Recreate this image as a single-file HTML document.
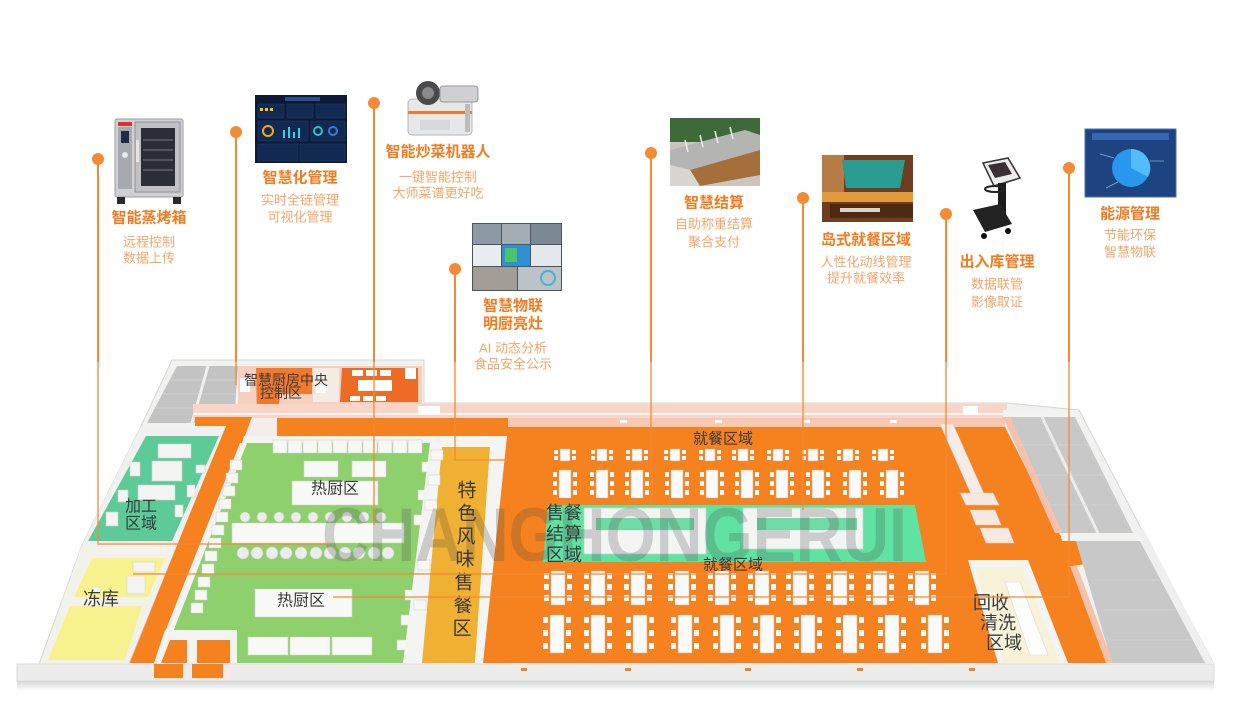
<!DOCTYPE html>
<html><head><meta charset="utf-8"><style>
html,body{margin:0;padding:0;background:#fff;width:1240px;height:702px;overflow:hidden}
svg{display:block}
text{font-family:"Liberation Sans","Noto Sans CJK SC",sans-serif}
.tt{font-size:15px;font-weight:bold;fill:#f37b1f}
.st{font-size:13px;fill:#f6a468}
.fl{fill:#3a3a3a}
</style></head><body>
<svg width="1240" height="702" viewBox="0 0 1240 702" xmlns="http://www.w3.org/2000/svg">
<defs>
<linearGradient id="sh" x1="0" y1="0" x2="0" y2="1"><stop offset="0" stop-color="#d6d6d6"/><stop offset="1" stop-color="#fff"/></linearGradient>
<g id="t1"><rect x="-5" y="-6" width="10" height="12" fill="#fafafa" stroke="#e2ad86" stroke-width=".5"/><rect x="-11" y="-5" width="4" height="4" fill="#fafafa"/><rect x="-11" y="1" width="4" height="4" fill="#fafafa"/><rect x="7" y="-5" width="4" height="4" fill="#fafafa"/><rect x="7" y="1" width="4" height="4" fill="#fafafa"/></g>
<g id="t2"><rect x="-6" y="-14" width="12" height="28" fill="#fafafa" stroke="#e2ad86" stroke-width=".5"/><rect x="-12" y="-12" width="4" height="5" fill="#fafafa"/><rect x="-12" y="-3" width="4" height="5" fill="#fafafa"/><rect x="-12" y="6" width="4" height="5" fill="#fafafa"/><rect x="8" y="-12" width="4" height="5" fill="#fafafa"/><rect x="8" y="-3" width="4" height="5" fill="#fafafa"/><rect x="8" y="6" width="4" height="5" fill="#fafafa"/></g>
<g id="t3"><rect x="-7" y="-17" width="14" height="34" fill="#fafafa" stroke="#e2ad86" stroke-width=".5"/><rect x="-14" y="-15" width="5" height="6" fill="#fafafa"/><rect x="-14" y="-4" width="5" height="6" fill="#fafafa"/><rect x="-14" y="7" width="5" height="6" fill="#fafafa"/><rect x="9" y="-15" width="5" height="6" fill="#fafafa"/><rect x="9" y="-4" width="5" height="6" fill="#fafafa"/><rect x="9" y="7" width="5" height="6" fill="#fafafa"/></g>
<g id="t4"><rect x="-7" y="-19" width="14" height="38" fill="#fafafa" stroke="#e2ad86" stroke-width=".5"/><rect x="-14" y="-17" width="5" height="6" fill="#fafafa"/><rect x="-14" y="-4" width="5" height="6" fill="#fafafa"/><rect x="-14" y="9" width="5" height="6" fill="#fafafa"/><rect x="9" y="-17" width="5" height="6" fill="#fafafa"/><rect x="9" y="-4" width="5" height="6" fill="#fafafa"/><rect x="9" y="9" width="5" height="6" fill="#fafafa"/></g>
<g id="bx"><rect width="12" height="10" fill="#f7f7f5" stroke="#d3d3d3" stroke-width=".6"/></g>
<g id="bt"><rect width="14" height="13" fill="#f7f7f5" stroke="#d3d3d3" stroke-width=".6"/></g>
</defs>

<!-- building base -->
<rect x="17" y="681" width="1197" height="10" fill="url(#sh)"/>
<polygon points="172,360 424,360 424,403 1007,403 1079,410 1142,530 1214,664 1214,681 17,681 17,664 39,664 82,545 141,426" fill="#f1f1ef" stroke="#d5d5d5" stroke-width="1"/>
<rect x="17" y="664" width="1197" height="17" fill="#ececea" stroke="#d9d9d9" stroke-width=".8"/>

<!-- top-left gray storage -->
<polygon points="177,366 238,366 234,423 147,423" fill="#c3c3c3"/>
<g stroke="#d3d3d3" stroke-width=".8"><line x1="170" y1="380" x2="236" y2="380"/><line x1="163" y1="394" x2="235" y2="394"/><line x1="156" y1="408" x2="234" y2="408"/></g>
<line x1="208" y1="366" x2="192" y2="423" stroke="#efefef" stroke-width="3"/>

<!-- control area -->
<rect x="238" y="366" width="184" height="38" fill="#f7d0bf"/>
<polygon points="256,368 312,368 312,394 280,394 278,416 257,416" fill="#f27a2c"/>
<rect x="313" y="368" width="26" height="34" fill="#f5ebe6"/>
<rect x="316" y="385" width="10" height="8" fill="#fff"/>
<polygon points="342,368 418,368 418,402 340,402" fill="#ee6b26"/>
<g fill="#fff"><rect x="358" y="380" width="34" height="11"/><rect x="352" y="370" width="11" height="6"/><rect x="366" y="370" width="11" height="6"/><rect x="380" y="370" width="11" height="6"/><rect x="405" y="368" width="11" height="11"/><rect x="350" y="396" width="10" height="5"/><rect x="363" y="396" width="10" height="5"/><rect x="376" y="396" width="10" height="5"/><rect x="240" y="378" width="10" height="14"/></g>

<!-- top wall band -->
<rect x="193" y="404" width="814" height="14" fill="#f8d5c6"/>
<line x1="193" y1="414" x2="1007" y2="414" stroke="#fff" stroke-width="1.5"/>
<rect x="418" y="406" width="22" height="9" fill="#fff"/>
<rect x="508" y="418" width="497" height="9" fill="#f7c9b4"/>

<!-- corridors -->
<polygon points="195,417 252,417 160,663 127,663 223,428 195,428" fill="#f5821e"/>
<polygon points="217,428 224,428 130,663 122,663" fill="#f4b194"/>
<rect x="277" y="418" width="231" height="18" fill="#f5821e"/>
<polygon points="252,418 277,418 277,456 238,456" fill="#f3eeeb"/>
<rect x="250" y="437" width="20" height="8" fill="#f5821e"/>
<rect x="244" y="448" width="10" height="8" fill="#f5821e"/>

<!-- processing room -->
<polygon points="141,426 226,426 177,545 82,545" fill="#eef1ef"/>
<polygon points="146,436 219,436 172,541 88,541" fill="#5ccb98"/>
<g fill="#f4f4f2" stroke="#cfcfcf" stroke-width=".6">
<rect x="158" y="444" width="33" height="14"/><rect x="152" y="461" width="30" height="20"/><rect x="138" y="485" width="37" height="15"/>
<rect x="130" y="462" width="10" height="14"/><rect x="118" y="490" width="10" height="12"/><rect x="106" y="512" width="12" height="14"/><rect x="175" y="505" width="8" height="12"/><rect x="187" y="485" width="8" height="12"/><rect x="196" y="465" width="9" height="8"/></g>
<rect x="125" y="546" width="16" height="8" fill="#5ccb98"/>

<!-- frozen store -->
<polygon points="82,545 177,545 129,663 40,663" fill="#f2f2ea"/>
<polygon points="92,558 165,558 148,597 74,597" fill="#f7f28e"/>
<polygon points="70,606 142,606 125,660 48,660" fill="#f7f28e"/>
<g fill="#f3f3ef" stroke="#d8d8d0" stroke-width=".6"><rect x="133" y="562" width="22" height="10"/><rect x="127" y="576" width="18" height="18"/><rect x="92" y="587" width="8" height="6"/></g>

<!-- green hot kitchen -->
<polygon points="244,443 437,443 403,663 237,663 237,632 168,632" fill="#8ed06b"/>
<polygon points="244,436 437,436 437,443 242,443" fill="#f3f3f1"/>
<polygon points="240,443 247,443 173,632 165,632" fill="#f4f4f2"/>
<polygon points="165,630 237,630 237,663 154,663" fill="#f3f3f1"/>
<polygon points="170,640 187,640 187,663 161,663" fill="#f5821e"/>
<rect x="197" y="640" width="33" height="23" fill="#f5821e"/>
<rect x="154" y="664" width="29" height="14" fill="#f5821e"/>
<rect x="192" y="664" width="31" height="14" fill="#f5821e"/>
<!-- appliances -->
<use href="#bt" x="273" y="440"/><use href="#bt" x="288" y="440"/><use href="#bt" x="303" y="440"/><use href="#bt" x="318" y="440"/><use href="#bt" x="333" y="440"/><use href="#bt" x="348" y="440"/><use href="#bt" x="363" y="440"/><use href="#bt" x="378" y="440"/><use href="#bt" x="393" y="440"/><use href="#bt" x="408" y="440"/>
<use href="#bx" x="230" y="460"/><use href="#bx" x="226" y="473"/><use href="#bx" x="223" y="486"/><use href="#bx" x="219" y="499"/><use href="#bx" x="216" y="512"/><use href="#bx" x="212" y="525"/><use href="#bx" x="209" y="538"/><use href="#bx" x="205" y="551"/><use href="#bx" x="202" y="564"/><use href="#bx" x="198" y="577"/><use href="#bx" x="195" y="590"/><use href="#bx" x="191" y="603"/>
<use href="#bx" x="422" y="462"/><use href="#bx" x="418" y="490"/><use href="#bx" x="414" y="515"/><use href="#bx" x="405" y="590"/><use href="#bx" x="401" y="615"/><use href="#bx" x="397" y="640"/>
<g fill="#f8f8f6" stroke="#cfcfcf" stroke-width=".6">
<rect x="304" y="461" width="34" height="16"/><rect x="352" y="461" width="34" height="16"/>
<rect x="292" y="481" width="86" height="24"/>
<rect x="232" y="523" width="172" height="20"/>
<rect x="255" y="589" width="97" height="28"/>
<rect x="248" y="637" width="40" height="18"/><rect x="290" y="637" width="40" height="18"/><rect x="332" y="637" width="40" height="18"/>
</g>
<g fill="#ececec" stroke="#c8c8c8" stroke-width=".6">
<circle cx="243" cy="553" r="6"/><circle cx="257" cy="553" r="6"/><circle cx="272" cy="553" r="6"/><circle cx="286" cy="553" r="6"/><circle cx="301" cy="553" r="6"/><circle cx="316" cy="553" r="6"/><circle cx="330" cy="553" r="6"/><circle cx="345" cy="553" r="6"/><circle cx="359" cy="553" r="6"/><circle cx="374" cy="553" r="6"/><circle cx="388" cy="553" r="6"/>
<circle cx="245" cy="517" r="5"/><circle cx="262" cy="517" r="5"/><circle cx="279" cy="517" r="5"/><circle cx="296" cy="517" r="5"/><circle cx="313" cy="517" r="5"/><circle cx="330" cy="517" r="5"/><circle cx="347" cy="517" r="5"/><circle cx="364" cy="517" r="5"/><circle cx="381" cy="517" r="5"/></g>

<!-- special strip -->
<polygon points="430,443 442,443 422,663 403,663" fill="#f4f4f2"/>
<polygon points="442,447 490,447 475,663 422,663" fill="#f0b032"/>
<polygon points="440,436 508,436 483,663 475,663 490,447 442,447" fill="#f4f4f2"/>
<use href="#bx" x="431" y="450"/><use href="#bx" x="428" y="475"/><use href="#bx" x="425" y="500"/><use href="#bx" x="418" y="560"/><use href="#bx" x="414" y="600"/>

<!-- dining -->
<polygon points="508,427 1005,427 1060,535 1097,535 1100,562 1072,566 1108,663 483,663" fill="#f5821e"/>
<g fill="#fff"><rect x="620" y="420" width="7" height="3"/><rect x="715" y="420" width="7" height="3"/><rect x="803" y="420" width="7" height="3"/><rect x="890" y="420" width="7" height="3"/><rect x="963" y="406" width="15" height="9"/></g>
<g fill="#f5821e"><rect x="521" y="668" width="6" height="3"/><rect x="625" y="668" width="6" height="3"/><rect x="745" y="668" width="6" height="3"/><rect x="857" y="668" width="6" height="3"/><rect x="969" y="668" width="6" height="3"/></g>

<!-- right structures -->
<polygon points="940,424 953,424 984,494 971,494" fill="#f4ece8" stroke="#e3cfc6" stroke-width=".6"/>
<g fill="#f5e9e2" stroke="#e3cfc6" stroke-width=".6">
<polygon points="960,493 993,493 999,505 966,505"/>
<polygon points="970,510 995,510 1001,525 976,525"/>
<polygon points="980,528 1008,528 1014,543 986,543"/></g>
<polygon points="1003,410 1078,410 1078,417 1003,417" fill="#f2f2f0"/>
<polygon points="1010,417 1075,417 1133,533 1062,533" fill="#c8c8c8"/>
<line x1="1042" y1="417" x2="1098" y2="533" stroke="#ececec" stroke-width="3"/>
<polygon points="1003,417 1010,417 1062,533 1055,533" fill="#f6c1aa"/>
<polygon points="1060,533 1137,533 1141,541 1062,541" fill="#f2f2f0"/>
<polygon points="1076,541 1140,541 1205,663 1112,663" fill="#c8c8c8"/>
<polygon points="1070,566 1077,566 1113,663 1106,663" fill="#f6c1aa"/>
<polygon points="1137,530 1144,530 1214,664 1206,664" fill="#efefef"/>
<g stroke="#d6d6d6" stroke-width=".7"><line x1="1020" y1="445" x2="1089" y2="445"/><line x1="1034" y1="475" x2="1104" y2="475"/><line x1="1048" y1="505" x2="1119" y2="505"/><line x1="1095" y1="580" x2="1161" y2="580"/><line x1="1103" y1="610" x2="1177" y2="610"/><line x1="1110" y1="640" x2="1193" y2="640"/></g>
<polygon points="968,560 1028,560 1068,663 998,663" fill="#f4f4f2"/>
<polygon points="975,567 1022,567 1060,663 1004,663" fill="#f8f2d8"/>
<polygon points="1005,582 1020,582 1048,655 1030,655" fill="#fdfdfd" stroke="#dadada" stroke-width=".6"/>

<!-- sales/checkout band -->
<polygon points="548,505 915,505 926,562 543,562" fill="#5fe2a2"/>
<rect x="584" y="508" width="122" height="46" fill="#f3f5f3" stroke="#cfcfcf" stroke-width=".8"/>
<rect x="596" y="518" width="98" height="12" fill="#6fdca8"/>
<rect x="743" y="508" width="120" height="41" fill="#f3f5f3" stroke="#cfcfcf" stroke-width=".8"/>
<rect x="757" y="518" width="100" height="12" fill="#6fdca8"/>

<!-- tables -->
<use href="#t1" x="565" y="455"/><use href="#t1" x="602" y="455"/><use href="#t1" x="637" y="455"/><use href="#t1" x="675" y="455"/><use href="#t1" x="710" y="455"/><use href="#t1" x="743" y="455"/><use href="#t1" x="778" y="455"/><use href="#t1" x="813" y="455"/><use href="#t1" x="848" y="455"/><use href="#t1" x="883" y="455"/>
<use href="#t2" x="565" y="484"/><use href="#t2" x="602" y="484"/><use href="#t2" x="637" y="484"/><use href="#t2" x="677" y="484"/><use href="#t2" x="712" y="484"/><use href="#t2" x="747" y="484"/><use href="#t2" x="782" y="484"/><use href="#t2" x="818" y="484"/><use href="#t2" x="855" y="484"/><use href="#t2" x="892" y="484"/>
<use href="#t3" x="558" y="588"/><use href="#t3" x="598" y="588"/><use href="#t3" x="638" y="588"/><use href="#t3" x="682" y="588"/><use href="#t3" x="722" y="588"/><use href="#t3" x="762" y="588"/><use href="#t3" x="800" y="588"/><use href="#t3" x="840" y="588"/><use href="#t3" x="880" y="588"/><use href="#t3" x="922" y="588"/>
<use href="#t4" x="557" y="634"/><use href="#t4" x="598" y="634"/><use href="#t4" x="640" y="634"/><use href="#t4" x="685" y="634"/><use href="#t4" x="727" y="634"/><use href="#t4" x="767" y="634"/><use href="#t4" x="808" y="634"/><use href="#t4" x="850" y="634"/><use href="#t4" x="892" y="634"/><use href="#t4" x="935" y="634"/>

<!-- watermark -->
<text x="322" y="561" font-size="76" font-weight="bold" fill="#4a4a4a" fill-opacity=".24" textLength="585" lengthAdjust="spacingAndGlyphs">CHANGHONGERUI</text>

<!-- floor labels -->
<g class="fl" text-anchor="middle" dominant-baseline="central">
<text x="286" y="380" font-size="14">智慧厨房中央</text>
<text x="281" y="393" font-size="14">控制区</text>
<text x="141" y="507" font-size="16">加工</text>
<text x="141" y="524" font-size="16">区域</text>
<text x="101" y="599" font-size="18">冻库</text>
<text x="335" y="489" font-size="16">热厨区</text>
<text x="301" y="601" font-size="16">热厨区</text>
<text x="467" y="491" font-size="19">特</text>
<text x="467" y="514" font-size="19">色</text>
<text x="466" y="537" font-size="19">风</text>
<text x="465" y="560" font-size="19">味</text>
<text x="464" y="583" font-size="19">售</text>
<text x="463" y="606" font-size="19">餐</text>
<text x="462" y="629" font-size="19">区</text>
<text x="723" y="439" font-size="15">就餐区域</text>
<text x="733" y="565" font-size="15">就餐区域</text>
<text x="564" y="513" font-size="18">售餐</text>
<text x="564" y="534" font-size="18">结算</text>
<text x="564" y="555" font-size="18">区域</text>
<text x="991" y="603" font-size="18">回收</text>
<text x="998" y="623" font-size="18">清洗</text>
<text x="1004" y="643" font-size="18">区域</text>
</g>

<!-- connectors -->
<g fill="none" stroke="#f48a34" stroke-width="2">
<path d="M98,159 V362"/><path d="M236,132 V362"/><path d="M374,103 V362"/><path d="M455,269 V362"/><path d="M651,153 V362"/><path d="M803,198 V362"/><path d="M946,214 V362"/><path d="M1069,168 V362"/>
</g>
<g fill="none" stroke="#f48a34" stroke-width="1.3">
<path d="M98,362 V544 H330"/><path d="M236,362 V385"/><path d="M374,362 V525"/><path d="M455,362 V460 H507"/><path d="M651,362 V505"/><path d="M803,362 V510"/><path d="M946,362 V574 H133"/><path d="M1069,362 V597 H333"/>
</g>
<g fill="#f48a34">
<circle cx="98" cy="159" r="6"/><circle cx="236" cy="132" r="6"/><circle cx="374" cy="103" r="6"/><circle cx="455" cy="269" r="6"/><circle cx="651" cy="153" r="6"/><circle cx="803" cy="198" r="6"/><circle cx="946" cy="214" r="6"/><circle cx="1069" cy="168" r="6"/>
</g>

<!-- callout images -->
<!-- oven -->
<rect x="115" y="119" width="68" height="78" rx="2" fill="#cfd0d3" stroke="#9c9ea2"/>
<rect x="118" y="122" width="14" height="4" fill="#d8342c"/>
<rect x="118" y="127" width="14" height="62" fill="#a6a9ae"/>
<rect x="121" y="131" width="8" height="12" fill="#1e2c44"/>
<circle cx="125" cy="155" r="3" fill="#e8e8e8"/>
<rect x="135" y="122" width="45" height="70" fill="#bfc1c4" stroke="#8f9195"/>
<rect x="141" y="128" width="34" height="58" fill="#2b2e34"/>
<g stroke="#7a7a7a" stroke-width="1"><line x1="143" y1="140" x2="173" y2="140"/><line x1="143" y1="150" x2="173" y2="150"/><line x1="143" y1="160" x2="173" y2="160"/><line x1="143" y1="170" x2="173" y2="170"/></g>
<rect x="136" y="140" width="3" height="22" fill="#e5e5e5"/>
<rect x="117" y="197" width="8" height="7" fill="#2a2a2a"/><rect x="173" y="197" width="8" height="7" fill="#2a2a2a"/>
<!-- dashboard -->
<rect x="255" y="95" width="92" height="68" fill="#0c1a38"/>
<rect x="285" y="97" width="35" height="4" fill="#2a4f8c"/>
<g fill="#122a52" stroke="#1e3c70" stroke-width=".6"><rect x="258" y="104" width="26" height="14"/><rect x="287" y="104" width="26" height="14"/><rect x="316" y="104" width="29" height="14"/><rect x="258" y="121" width="50" height="20"/><rect x="311" y="121" width="34" height="20"/><rect x="258" y="144" width="40" height="17"/><rect x="300" y="144" width="45" height="17"/></g>
<circle cx="268" cy="131" r="5" fill="none" stroke="#f5a623" stroke-width="2"/>
<circle cx="318" cy="131" r="4" fill="none" stroke="#2ec4b6" stroke-width="2"/>
<circle cx="333" cy="131" r="4" fill="none" stroke="#3a7bd5" stroke-width="2"/>
<g fill="#3ad1e0"><rect x="283" y="130" width="2" height="8"/><rect x="288" y="127" width="2" height="11"/><rect x="293" y="132" width="2" height="6"/><rect x="298" y="128" width="2" height="10"/></g>
<g fill="#f5c518"><rect x="260" y="108" width="3" height="3"/><rect x="265" y="108" width="3" height="3"/><rect x="270" y="108" width="3" height="3"/></g>
<!-- robot -->
<rect x="408" y="99" width="64" height="36" rx="4" fill="#e6e7e9" stroke="#b5b6b8"/>
<rect x="408" y="111" width="64" height="3" fill="#f07a2a"/>
<circle cx="428" cy="93" r="12" fill="#4a4a4c"/><circle cx="428" cy="93" r="6" fill="#8a8a8c"/>
<rect x="440" y="86" width="38" height="16" rx="3" fill="#cfd0d2" stroke="#999"/>
<rect x="465" y="104" width="5" height="28" fill="#bbb"/>
<rect x="420" y="120" width="30" height="10" fill="#d8d9db"/>
<!-- camera grid -->
<rect x="472" y="223" width="90" height="68" fill="#4b5560"/>
<rect x="473" y="224" width="28" height="20" fill="#8d9aa6"/><rect x="502" y="224" width="28" height="20" fill="#a3adb5"/><rect x="531" y="224" width="30" height="20" fill="#7c8894"/>
<rect x="473" y="245" width="28" height="21" fill="#e9edf0"/><rect x="502" y="245" width="28" height="21" fill="#2f8fd0"/><rect x="505" y="248" width="12" height="14" fill="#49c46a"/><rect x="531" y="245" width="30" height="21" fill="#e4e8ea"/>
<rect x="473" y="267" width="44" height="23" fill="#a29d95"/><rect x="518" y="267" width="43" height="23" fill="#bcc2c6"/>
<circle cx="548" cy="278" r="7" fill="none" stroke="#3cb4d8" stroke-width="2"/>
<!-- checkout photo -->
<rect x="670" y="118" width="90" height="68" fill="#c9c6bf"/>
<rect x="670" y="118" width="90" height="24" fill="#3e6a3a"/>
<polygon points="670,150 745,130 760,135 760,150 690,170 670,165" fill="#b4b5b2"/>
<polygon points="690,170 760,150 760,175 700,186" fill="#a56f3b"/>
<polygon points="670,165 690,170 700,186 670,186" fill="#d9d6d0"/>
<g stroke="#eee" stroke-width="1.5"><line x1="685" y1="140" x2="688" y2="152"/><line x1="700" y1="135" x2="703" y2="147"/><line x1="715" y1="131" x2="718" y2="143"/><line x1="730" y1="127" x2="733" y2="139"/></g>
<!-- island photo -->
<rect x="822" y="155" width="91" height="67" fill="#6d3f20"/>
<rect x="822" y="155" width="22" height="45" fill="#b77b45"/>
<polygon points="842,160 905,160 900,188 846,188" fill="#2b9c94"/>
<rect x="822" y="192" width="91" height="10" fill="#e39a3c"/>
<rect x="830" y="204" width="83" height="14" fill="#4e2a12"/>
<rect x="840" y="208" width="40" height="4" fill="#d9d2c5"/>
<!-- scale -->
<polygon points="983,163 1008,158 1020,178 994,186" fill="#ececec" stroke="#333" stroke-width="1.5"/>
<polygon points="988,165 1005,162 1012,174 995,178" fill="#3a2f35"/>
<rect x="998" y="183" width="8" height="42" fill="#1c1c1c"/>
<ellipse cx="995" cy="189" rx="10" ry="3" fill="none" stroke="#222" stroke-width="2"/>
<polygon points="973,210 1000,204 1012,224 985,232" fill="#222"/>
<circle cx="984" cy="236" r="3" fill="#111"/><circle cx="1008" cy="231" r="3" fill="#111"/>
<!-- energy -->
<rect x="1085" y="129" width="91" height="68" fill="#1d4380" stroke="#4a6fa8"/>
<rect x="1092" y="133" width="77" height="7" fill="#3866ae"/>
<circle cx="1131" cy="168" r="19" fill="#2a97ee"/>
<path d="M1131,168 L1131,149 A19,19 0 0,1 1148,177 Z" fill="#52bdf6"/>
<g stroke="#8fb3e0" stroke-width=".7"><line x1="1100" y1="154" x2="1114" y2="158"/><line x1="1150" y1="161" x2="1164" y2="161"/><line x1="1106" y1="188" x2="1118" y2="182"/></g>

<!-- callout text -->
<g text-anchor="middle" dominant-baseline="central">
<text class="tt" x="149" y="218">智能蒸烤箱</text>
<text class="st" x="149" y="242">远程控制</text>
<text class="st" x="149" y="258">数据上传</text>
<text class="tt" x="300" y="178">智慧化管理</text>
<text class="st" x="300" y="200">实时全链管理</text>
<text class="st" x="300" y="217">可视化管理</text>
<text class="tt" x="438" y="152">智能炒菜机器人</text>
<text class="st" x="438" y="177">一键智能控制</text>
<text class="st" x="438" y="193">大师菜谱更好吃</text>
<text class="tt" x="513" y="306">智慧物联</text>
<text class="tt" x="513" y="324">明厨亮灶</text>
<text class="st" x="513" y="348">AI 动态分析</text>
<text class="st" x="513" y="364">食品安全公示</text>
<text class="tt" x="714" y="203">智慧结算</text>
<text class="st" x="714" y="224">自助称重结算</text>
<text class="st" x="714" y="242">聚合支付</text>
<text class="tt" x="866" y="240">岛式就餐区域</text>
<text class="st" x="866" y="262">人性化动线管理</text>
<text class="st" x="866" y="278">提升就餐效率</text>
<text class="tt" x="997" y="262">出入库管理</text>
<text class="st" x="997" y="284">数据联管</text>
<text class="st" x="997" y="302">影像取证</text>
<text class="tt" x="1130" y="214">能源管理</text>
<text class="st" x="1130" y="235">节能环保</text>
<text class="st" x="1130" y="252">智慧物联</text>
</g>
</svg>
</body></html>
